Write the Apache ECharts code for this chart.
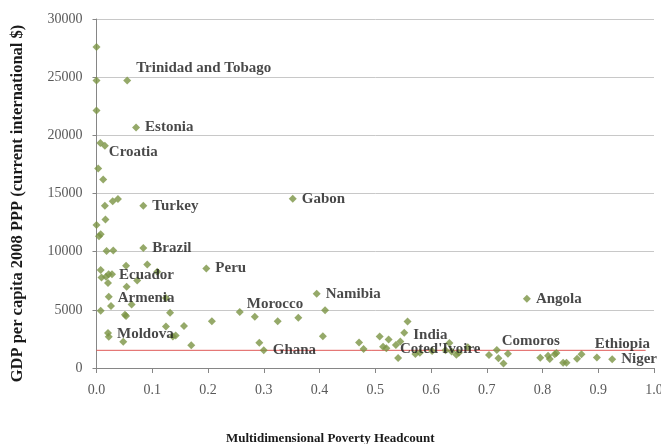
<!DOCTYPE html>
<html>
<head>
<meta charset="utf-8">
<script src="https://cdn.jsdelivr.net/npm/echarts@6/dist/echarts.min.js"></script>
<style>
html,body{margin:0;padding:0;background:#fff;}
#chart{width:661px;height:444px;}
</style>
</head>
<body>
<div id="chart"></div>
<script>
// Multidimensional Poverty Headcount (x) vs GDP per capita 2008 PPP (y)
var headcount = [
  0.000, 0.000, 0.055, 0.000, 0.071, 0.007, 0.015, 0.003, 0.012, 0.015,
  0.029, 0.0385, 0.084, 0.352, 0.016, 0.000, 0.0075, 0.0045, 0.018, 0.030,
  0.084, 0.053, 0.091, 0.0075, 0.109, 0.197, 0.009, 0.017, 0.0218, 0.0278,
  0.0206, 0.054, 0.073, 0.022, 0.1245, 0.026, 0.063, 0.0075, 0.051, 0.053,
  0.132, 0.1245, 0.157, 0.207, 0.0206, 0.022, 0.048, 0.137, 0.142, 0.170,
  0.257, 0.284, 0.292, 0.300, 0.325, 0.362, 0.395, 0.410, 0.406, 0.471,
  0.479, 0.508, 0.514, 0.520, 0.524, 0.537, 0.541, 0.545, 0.552, 0.558,
  0.572, 0.580, 0.602, 0.626, 0.633, 0.637, 0.6455, 0.650, 0.666, 0.704,
  0.718, 0.721, 0.730, 0.738, 0.772, 0.796, 0.810, 0.813, 0.822, 0.825,
  0.837, 0.843, 0.862, 0.870, 0.8975, 0.925
];
var gdp = [
  27600, 24720, 24720, 22140, 20680, 19340, 19100, 17150, 16200, 13940,
  14340, 14520, 13940, 14540, 12770, 12300, 11500, 11330, 10060, 10110,
  10320, 8800, 8900, 8420, 8270, 8550, 7780, 7840, 8060, 8060,
  7300, 6980, 7530, 6120, 6020, 5340, 5450, 4930, 4570, 4460,
  4760, 3570, 3610, 4020, 3000, 2680, 2250, 2700, 2800, 1960,
  4820, 4410, 2180, 1520, 4020, 4330, 6390, 4960, 2720, 2200,
  1640, 2710, 1820, 1700, 2460, 1970, 860, 2280, 3040, 4000,
  1210, 1320, 1460, 1520, 2150, 1420, 1130, 1320, 1780, 1110,
  1540, 840, 390, 1220, 5950, 890, 1060, 780, 1190, 1280,
  450, 450, 790, 1180, 900, 750
];
var countryLabels = [
  '', '', 'Trinidad and Tobago', '', 'Estonia', '', 'Croatia', '', '', '',
  '', '', 'Turkey', 'Gabon', '', '', '', '', '', '',
  'Brazil', '', '', '', '', 'Peru', '', '', '', 'Ecuador',
  '', '', '', 'Armenia', '', '', '', '', '', '',
  '', '', '', '', 'Moldova', '', '', '', '', '',
  'Morocco', '', '', 'Ghana', '', '', 'Namibia', '', '', '',
  '', '', '', '', '', "Coted'Ivoire", '', '', 'India', '',
  '', '', '', '', '', '', '', '', '', '',
  'Comoros', '', '', '', 'Angola', '', '', '', '', '',
  '', '', '', '', 'Ethiopia', 'Niger'
];
var povertyLine = [[0, 1520], [0.985, 1520]];
var yTicks = { min: 0, max: 30000, step: 5000 };
var xTicks = { min: 0, max: 1, step: 0.1 };

// label nudges (style only)
var labelNudge = {
  'Trinidad and Tobago': [0, -12],
  'Croatia': [-5, 6],
  'Ecuador': [-2, 1],
  'Armenia': [0, 1],
  'Moldova': [0, 1],
  'Morocco': [-2, -8],
  'India': [0, 2],
  "Coted'Ivoire": [-5, 4],
  'Comoros': [-4, -9],
  'Ethiopia': [-11, -13]
};

var serif = '"Liberation Serif", "DejaVu Serif", serif';
var pts = headcount.map(function (x, i) {
  var name = countryLabels[i];
  var item = { value: [x, gdp[i]] };
  if (name) {
    item.name = name;
    item.label = {
      show: true,
      position: 'right',
      distance: 5,
      offset: labelNudge[name] || [0, 0],
      formatter: name,
      fontFamily: serif,
      fontWeight: 'bold',
      fontSize: 15,
      color: '#1a1a1a'
    };
  }
  return item;
});

var chart = echarts.init(document.getElementById('chart'), null, { renderer: 'canvas' });
chart.setOption({
  animation: false,
  backgroundColor: '#ffffff',
  grid: { left: 96.5, right: 7, top: 19, bottom: 76, containLabel: false, outerBoundsMode: 'none' },
  xAxis: {
    type: 'value',
    min: xTicks.min, max: xTicks.max, interval: xTicks.step,
    name: 'Multidimensional Poverty Headcount',
    nameLocation: 'middle',
    nameGap: 64,
    nameTextStyle: { fontFamily: serif, fontWeight: 'bold', fontSize: 13, color: '#1a1a1a', padding: [0, 90, 0, 0] },
    axisLine: { show: true, lineStyle: { color: '#868686', width: 1 } },
    axisTick: { show: true, inside: false, length: 5, lineStyle: { color: '#868686' } },
    axisLabel: { fontFamily: serif, fontSize: 14, color: '#595959', margin: 15, formatter: function (v) { return v.toFixed(1); } },
    splitLine: { show: false }
  },
  yAxis: {
    type: 'value',
    min: yTicks.min, max: yTicks.max, interval: yTicks.step,
    name: 'GDP per capita 2008 PPP (current international $)',
    nameLocation: 'middle',
    nameGap: 70,
    nameRotate: 90,
    nameTextStyle: { fontFamily: serif, fontWeight: 'bold', fontSize: 16.5, color: '#1a1a1a', padding: [0, 20, 0, 0] },
    axisLine: { show: true, lineStyle: { color: '#868686', width: 1 } },
    axisTick: { show: true, inside: false, length: 4, lineStyle: { color: '#868686' } },
    axisLabel: { fontFamily: serif, fontSize: 14, color: '#595959', margin: 14, formatter: function (v) { return String(v); } },
    splitLine: { show: true, lineStyle: { color: '#C8C8C8', width: 1 } }
  },
  series: [
    {
      type: 'line',
      data: povertyLine,
      symbol: 'none',
      silent: true,
      lineStyle: { color: '#E05A57', width: 1 },
      z: 1
    },
    {
      type: 'scatter',
      data: pts,
      symbol: 'diamond',
      symbolSize: 8,
      itemStyle: { color: '#7B9443' },
      z: 2
    }
  ]
});
</script>
</body>
</html>
